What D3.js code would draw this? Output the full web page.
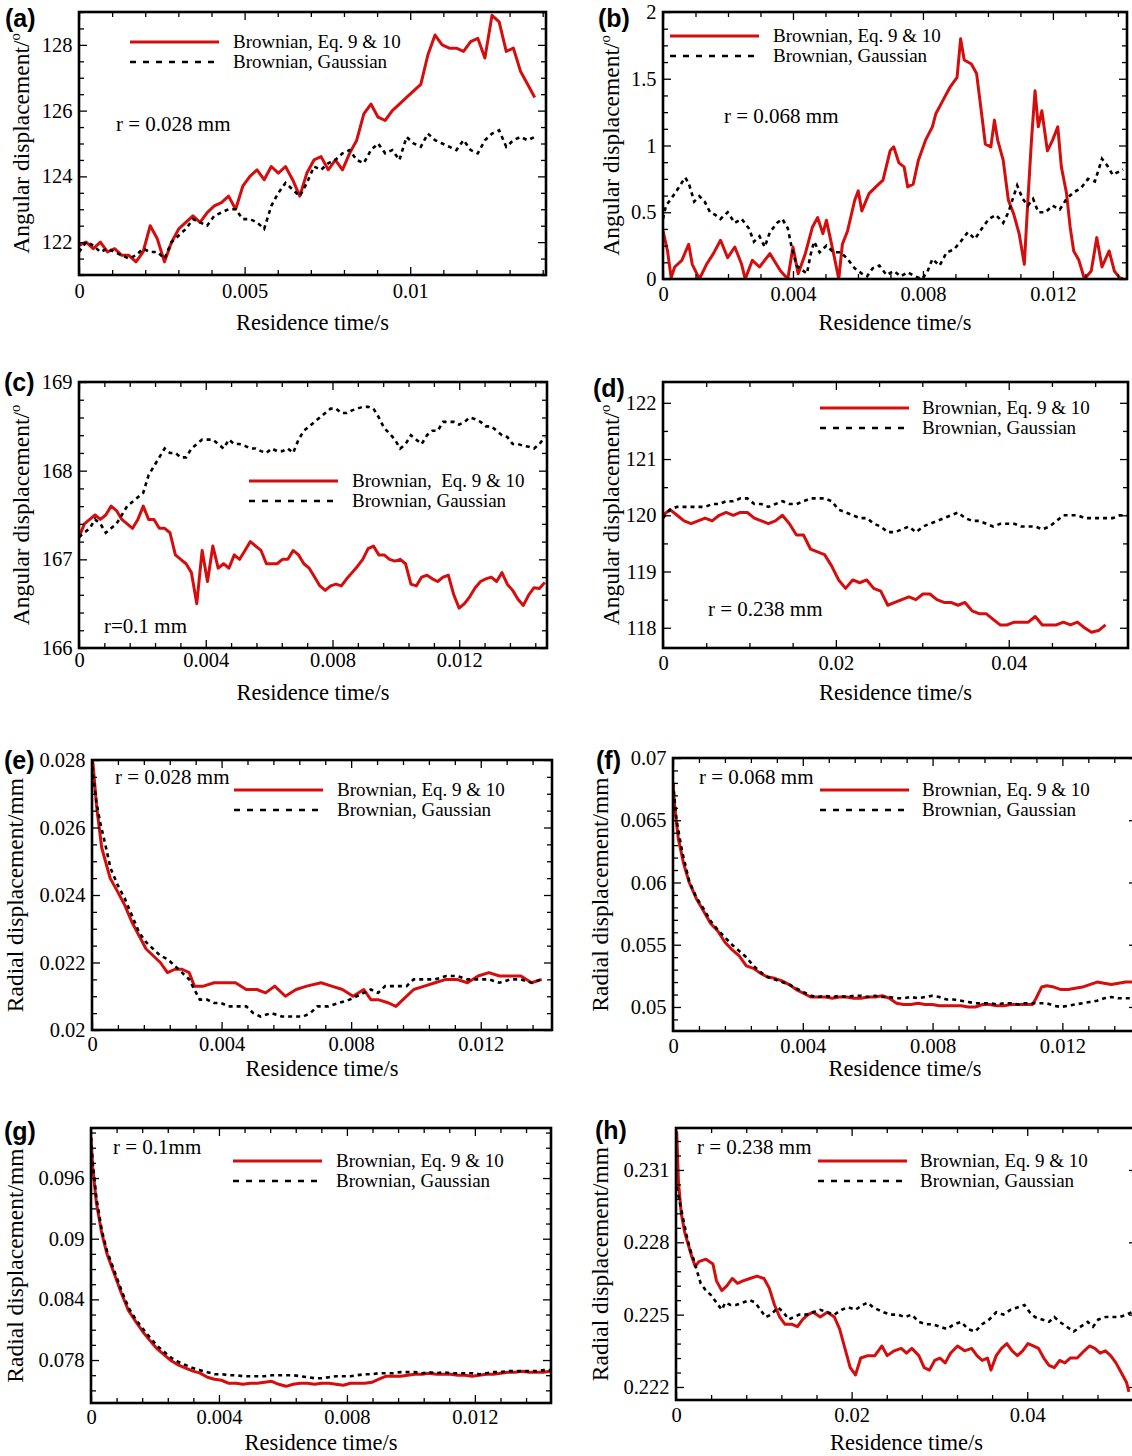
<!DOCTYPE html>
<html>
<head>
<meta charset="utf-8">
<script src="https://cdn.jsdelivr.net/npm/d3@7"></script>
<style>
  body { margin: 0; background: #fff; }
  svg { display: block; }
</style>
</head>
<body>
<script>
// Particle trajectories: angular and radial displacement against residence time,
// Brownian motion from Eq. 9 & 10 (red) versus Gaussian Brownian motion (black dashed).
// Times are stored in milliseconds; a series is either evenly sampled ({span, v})
// or a list of [time_ms, value] pairs.

// ---------- (a) angular, r = 0.028 mm ----------
const aXTicks = [0, 0.005, 0.01];
const aYTicks = [122, 124, 126, 128];
const aEq = { span: [0, 13.76], v: [
  121.9, 122.0, 121.8, 122.0, 121.7, 121.8, 121.6, 121.6, 121.4, 121.7,
  122.5, 122.1, 121.4, 122.0, 122.4, 122.6, 122.8, 122.6, 122.9, 123.1,
  123.2, 123.4, 123.0, 123.7, 124.0, 124.2, 123.9, 124.3, 124.1, 124.3,
  123.9, 123.4, 124.1, 124.5, 124.6, 124.2, 124.5, 124.2, 124.7, 125.1,
  125.9, 126.2, 125.8, 125.7, 126.0, 126.2, 126.4, 126.6, 126.8, 127.7,
  128.3, 128.0, 127.9, 127.9, 127.8, 128.1, 128.2, 127.6, 128.9, 128.7,
  127.8, 127.9, 127.2, 126.8, 126.4 ] };
const aGauss = { span: [0, 13.76], v: [
  121.7, 122.0, 121.9, 121.7, 121.8, 121.7, 121.6, 121.5, 121.6, 121.8,
  121.7, 121.7, 121.5, 122.0, 122.2, 122.4, 122.7, 122.6, 122.5, 122.8,
  122.9, 123.0, 123.0, 122.7, 122.7, 122.6, 122.4, 123.1, 123.5, 123.8,
  123.6, 123.4, 123.8, 124.3, 124.2, 124.4, 124.5, 124.7, 124.8, 124.5,
  124.4, 124.8, 125.0, 124.7, 124.8, 124.5, 125.2, 125.0, 124.9, 125.3,
  125.1, 125.0, 124.9, 124.8, 125.1, 124.8, 124.7, 125.1, 125.3, 125.4,
  124.9, 125.1, 125.2, 125.1, 125.2 ] };

// ---------- (b) angular, r = 0.068 mm ----------
const bXTicks = [0, 0.004, 0.008, 0.012];
const bYTicks = [0, 0.5, 1, 1.5, 2];
const bEq = [
  [0,0.36],[0.14,0.21],[0.25,0.01],[0.36,0.09],[0.58,0.14],[0.79,0.26],[0.9,0.11],[1.12,0],
  [1.34,0.11],[1.55,0.19],[1.77,0.29],[1.99,0.16],[2.21,0.24],[2.42,0.11],[2.53,0],[2.75,0.14],
  [2.97,0.09],[3.29,0.19],[3.62,0.06],[3.84,0],[4.0,0.24],[4.16,0.04],[4.38,0.19],[4.6,0.39],
  [4.76,0.46],[4.92,0.34],[5.03,0.44],[5.25,0.19],[5.41,0],[5.52,0.26],[5.68,0.36],[5.9,0.59],
  [6.01,0.66],[6.12,0.51],[6.34,0.64],[6.55,0.69],[6.77,0.74],[6.99,0.96],[7.1,0.99],[7.26,0.87],
  [7.42,0.84],[7.53,0.69],[7.7,0.71],[7.86,0.89],[8.08,1.04],[8.29,1.14],[8.4,1.24],[8.62,1.34],
  [8.84,1.44],[9.05,1.51],[9.16,1.8],[9.27,1.64],[9.49,1.61],[9.65,1.54],[9.82,1.21],[9.92,1.01],
  [10.09,0.99],[10.2,1.19],[10.3,1.04],[10.47,0.89],[10.63,0.59],[10.79,0.49],[10.96,0.34],[11.12,0.11],
  [11.23,0.59],[11.34,1.04],[11.45,1.41],[11.55,1.14],[11.66,1.26],[11.83,0.96],[11.99,1.04],[12.15,1.14],
  [12.26,0.84],[12.42,0.64],[12.53,0.39],[12.64,0.21],[12.8,0.14],[12.97,0],[13.18,0.06],[13.35,0.31],
  [13.51,0.09],[13.73,0.21],[13.89,0.06],[14.05,0.01],[14.16,0]
];
const bGauss = [
  [0,0.45],[0.09,0.55],[0.25,0.6],[0.47,0.68],[0.68,0.76],[0.79,0.72],[0.96,0.58],[1.12,0.62],
  [1.28,0.58],[1.45,0.5],[1.61,0.48],[1.77,0.45],[1.99,0.5],[2.21,0.42],[2.42,0.45],[2.64,0.38],
  [2.8,0.28],[2.97,0.32],[3.13,0.24],[3.29,0.35],[3.51,0.42],[3.67,0.45],[3.84,0.38],[3.95,0.25],
  [4.11,0.1],[4.27,0.07],[4.43,0.04],[4.54,0.18],[4.65,0.28],[4.82,0.2],[5.03,0.25],[5.25,0.2],
  [5.47,0.2],[5.68,0.15],[5.9,0.08],[6.12,0.04],[6.28,0.02],[6.45,0.08],[6.66,0.1],[6.88,0.03],
  [7.1,0.06],[7.32,0.02],[7.53,0.05],[7.75,0.02],[7.97,0],[8.13,0.05],[8.29,0.15],[8.51,0.1],
  [8.73,0.2],[8.95,0.22],[9.16,0.28],[9.38,0.35],[9.6,0.3],[9.82,0.38],[10.03,0.45],[10.25,0.48],
  [10.47,0.42],[10.63,0.5],[10.79,0.62],[10.9,0.7],[11.07,0.6],[11.23,0.55],[11.39,0.6],[11.55,0.5],
  [11.77,0.5],[11.99,0.55],[12.21,0.52],[12.42,0.6],[12.64,0.65],[12.86,0.68],[13.08,0.75],[13.29,0.73],
  [13.51,0.9],[13.67,0.85],[13.84,0.78],[14.0,0.8],[14.16,0.82]
];

// ---------- (c) angular, r = 0.1 mm ----------
const cXTicks = [0, 0.004, 0.008, 0.012];
const cYTicks = [166, 167, 168, 169];
const cEq = { span: [0, 14.7], v: [
  167.25, 167.4, 167.45, 167.5, 167.45, 167.5, 167.6, 167.55, 167.45, 167.4,
  167.35, 167.45, 167.6, 167.45, 167.45, 167.35, 167.35, 167.3, 167.05, 167.0,
  166.95, 166.85, 166.5, 167.1, 166.75, 167.15, 166.9, 166.95, 166.9, 167.05,
  167.0, 167.1, 167.2, 167.15, 167.1, 166.95, 166.95, 166.95, 167.0, 167.0,
  167.1, 167.05, 166.95, 166.9, 166.8, 166.7, 166.65, 166.7, 166.72, 166.7,
  166.78, 166.85, 166.92, 167.0, 167.12, 167.15, 167.05, 167.05, 167.0, 166.98,
  167.0, 166.95, 166.72, 166.7, 166.8, 166.82, 166.78, 166.75, 166.8, 166.82,
  166.6, 166.45, 166.5, 166.58, 166.68, 166.75, 166.78, 166.8, 166.75, 166.85,
  166.72, 166.65, 166.55, 166.48, 166.6, 166.68, 166.67, 166.74 ] };
const cGauss = { span: [0, 14.7], v: [
  167.25, 167.3, 167.35, 167.45, 167.4, 167.3, 167.35, 167.4, 167.5, 167.6,
  167.65, 167.7, 167.75, 167.95, 168.05, 168.15, 168.25, 168.2, 168.2, 168.15,
  168.15, 168.25, 168.3, 168.35, 168.35, 168.35, 168.3, 168.25, 168.35, 168.3,
  168.3, 168.28, 168.25, 168.25, 168.22, 168.2, 168.25, 168.22, 168.22, 168.25,
  168.2, 168.35, 168.45, 168.5, 168.55, 168.6, 168.65, 168.7, 168.7, 168.65,
  168.65, 168.68, 168.7, 168.72, 168.72, 168.7, 168.6, 168.48, 168.42, 168.35,
  168.25, 168.3, 168.4, 168.35, 168.3, 168.4, 168.45, 168.45, 168.55, 168.55,
  168.55, 168.52, 168.55, 168.6, 168.58, 168.55, 168.5, 168.5, 168.45, 168.4,
  168.38, 168.3, 168.3, 168.28, 168.27, 168.25, 168.3, 168.38 ] };

// ---------- (d) angular, r = 0.238 mm ----------
const dXTicks = [0, 0.02, 0.04];
const dYTicks = [118, 119, 120, 121, 122];
const dEq = { span: [0, 51.2], v: [
  120.0, 120.1, 120.0, 119.9, 119.85, 119.9, 119.95, 119.9, 120.0, 120.05,
  120.0, 120.05, 120.05, 119.95, 119.9, 119.85, 119.9, 120.0, 119.85, 119.65,
  119.65, 119.4, 119.35, 119.3, 119.1, 118.85, 118.7, 118.85, 118.8, 118.85,
  118.7, 118.65, 118.4, 118.45, 118.5, 118.55, 118.5, 118.6, 118.6, 118.5,
  118.45, 118.45, 118.4, 118.45, 118.3, 118.25, 118.25, 118.15, 118.05, 118.05,
  118.1, 118.1, 118.1, 118.2, 118.05, 118.05, 118.05, 118.1, 118.05, 118.1,
  118.0, 117.92, 117.95, 118.05 ] };
const dGauss = { span: [0, 53.66], v: [
  119.95, 120.1, 120.15, 120.15, 120.15, 120.15, 120.15, 120.2, 120.2, 120.25,
  120.25, 120.3, 120.3, 120.2, 120.2, 120.15, 120.2, 120.25, 120.2, 120.2,
  120.25, 120.3, 120.3, 120.3, 120.25, 120.1, 120.05, 120.0, 119.95, 119.95,
  119.85, 119.8, 119.7, 119.7, 119.75, 119.8, 119.7, 119.8, 119.85, 119.9,
  119.95, 120.0, 120.05, 119.95, 119.9, 119.9, 119.85, 119.8, 119.85, 119.85,
  119.85, 119.8, 119.8, 119.8, 119.75, 119.8, 119.9, 120.0, 120.0, 120.0,
  119.95, 119.95, 119.95, 119.95, 119.95, 120.0, 120.0 ] };

// ---------- (e) radial, r = 0.028 mm ----------
const eXTicks = [0, 0.004, 0.008, 0.012];
const eYTicks = [0.02, 0.022, 0.024, 0.026, 0.028];
const eEq = [
  [0,0.028],[0.03,0.0279],[0.145,0.0266],[0.3,0.0254],[0.56,0.0245],[0.79,0.0241],[1.01,0.0237],
  [1.23,0.0232],[1.45,0.0228],[1.67,0.0224],[1.89,0.0222],[2.11,0.022],[2.33,0.0217],[2.56,0.0218],
  [2.78,0.0218],[3.0,0.0217],[3.16,0.0213],[3.44,0.0213],[3.77,0.0214],[4.1,0.0214],[4.43,0.0214],
  [4.76,0.0212],[5.09,0.0212],[5.36,0.0211],[5.64,0.0213],[5.97,0.021],[6.3,0.0212],[6.63,0.0213],
  [7.07,0.0214],[7.4,0.0213],[7.73,0.0212],[8.06,0.021],[8.39,0.0212],[8.61,0.0209],[8.83,0.0209],
  [9.16,0.0208],[9.38,0.0207],[9.6,0.0209],[9.93,0.0212],[10.26,0.0213],[10.59,0.0214],[10.93,0.0215],
  [11.26,0.0215],[11.59,0.0214],[11.92,0.0216],[12.25,0.0217],[12.58,0.0216],[12.91,0.0216],
  [13.24,0.0216],[13.57,0.0214],[13.88,0.0215]
];
const eGauss = [
  [0,0.0278],[0.13,0.0268],[0.24,0.0262],[0.41,0.0255],[0.57,0.0248],[0.79,0.0243],[1.01,0.0239],
  [1.23,0.0234],[1.45,0.0229],[1.67,0.0226],[1.89,0.0224],[2.11,0.0222],[2.33,0.0221],[2.56,0.0219],
  [2.78,0.0217],[3.0,0.0215],[3.16,0.0212],[3.33,0.0209],[3.55,0.0209],[3.77,0.0208],[3.99,0.0208],
  [4.21,0.0207],[4.43,0.0207],[4.76,0.0207],[4.98,0.0205],[5.2,0.0204],[5.53,0.0205],[5.86,0.0204],
  [6.08,0.0204],[6.3,0.0204],[6.52,0.0204],[6.74,0.0205],[6.96,0.0207],[7.29,0.0207],[7.62,0.0208],
  [7.95,0.0209],[8.17,0.021],[8.39,0.0211],[8.61,0.0212],[8.83,0.0211],[9.05,0.0213],[9.38,0.0213],
  [9.71,0.0213],[9.93,0.0215],[10.26,0.0215],[10.59,0.0215],[10.93,0.0216],[11.26,0.0216],
  [11.59,0.0215],[11.92,0.0215],[12.25,0.0215],[12.58,0.0214],[12.91,0.0215],[13.24,0.0215],
  [13.57,0.0214],[13.88,0.0215]
];

// ---------- (f) radial, r = 0.068 mm ----------
const fXTicks = [0, 0.004, 0.008, 0.012];
const fYTicks = [0.05, 0.055, 0.06, 0.065, 0.07];
const fEq = [
  [0,0.068],[0.055,0.066],[0.165,0.0635],[0.33,0.0615],[0.5,0.06],[0.72,0.0587],[0.94,0.0577],
  [1.16,0.0567],[1.38,0.0561],[1.6,0.0552],[1.82,0.0546],[2.04,0.0541],[2.26,0.0533],[2.48,0.0531],
  [2.7,0.0527],[2.92,0.0524],[3.14,0.0523],[3.36,0.0521],[3.58,0.0518],[3.8,0.0514],[4.02,0.0511],
  [4.24,0.0508],[4.47,0.0508],[4.69,0.0508],[4.91,0.0507],[5.13,0.0508],[5.35,0.0508],[5.57,0.0507],
  [5.79,0.0507],[6.01,0.0508],[6.23,0.0508],[6.45,0.0509],[6.67,0.0507],[6.89,0.0503],[7.11,0.0502],
  [7.33,0.0502],[7.55,0.0503],[7.77,0.0502],[7.99,0.0502],[8.21,0.0501],[8.43,0.0501],[8.65,0.0501],
  [8.88,0.0501],[9.1,0.05],[9.32,0.05],[9.54,0.0502],[9.76,0.0502],[9.98,0.0501],[10.2,0.0501],
  [10.42,0.0502],[10.64,0.0502],[10.86,0.0502],[11.08,0.0502],[11.19,0.0507],[11.36,0.0516],
  [11.52,0.0517],[11.74,0.0516],[11.96,0.0514],[12.18,0.0514],[12.4,0.0515],[12.62,0.0516],
  [12.84,0.0518],[13.07,0.052],[13.29,0.0519],[13.51,0.0518],[13.73,0.0519],[13.95,0.052],[14.17,0.052],
  [14.3,0.052]
];
const fGauss = [
  [0,0.068],[0.11,0.065],[0.28,0.0625],[0.5,0.0601],[0.72,0.0588],[0.94,0.0579],[1.16,0.0569],
  [1.38,0.0562],[1.6,0.0556],[1.82,0.055],[2.04,0.0545],[2.26,0.054],[2.48,0.0533],[2.7,0.0528],
  [2.92,0.0524],[3.14,0.0522],[3.36,0.052],[3.58,0.0518],[3.8,0.0515],[4.02,0.0512],[4.24,0.0509],
  [4.47,0.0508],[4.69,0.0509],[4.91,0.0508],[5.13,0.0509],[5.35,0.0508],[5.57,0.0509],[5.79,0.0509],
  [6.01,0.0508],[6.23,0.0509],[6.45,0.0508],[6.67,0.0508],[6.89,0.0507],[7.11,0.0507],[7.33,0.0508],
  [7.55,0.0507],[7.77,0.0508],[7.99,0.0509],[8.21,0.0508],[8.43,0.0506],[8.65,0.0506],[8.88,0.0505],
  [9.1,0.0504],[9.32,0.0503],[9.54,0.0503],[9.76,0.0503],[9.98,0.0502],[10.2,0.0503],[10.42,0.0503],
  [10.64,0.0502],[10.86,0.0503],[11.08,0.0503],[11.3,0.0503],[11.52,0.0503],[11.74,0.0501],
  [11.96,0.05],[12.18,0.0501],[12.4,0.0502],[12.62,0.0503],[12.84,0.0504],[13.07,0.0505],
  [13.29,0.0507],[13.51,0.0508],[13.73,0.0507],[13.95,0.0507],[14.17,0.0507],[14.3,0.0507]
];

// ---------- (g) radial, r = 0.1 mm ----------
const gXTicks = [0, 0.004, 0.008, 0.012];
const gYTicks = [0.078, 0.084, 0.09, 0.096];
const gEq = [
  [0,0.1],[0.056,0.097],[0.17,0.0935],[0.34,0.0905],[0.5,0.0885],[0.73,0.0865],[0.95,0.0846],
  [1.17,0.0829],[1.4,0.0818],[1.62,0.0808],[1.85,0.0799],[2.07,0.0791],[2.29,0.0785],[2.52,0.0779],
  [2.74,0.0775],[2.96,0.0772],[3.19,0.0769],[3.41,0.0767],[3.64,0.0763],[3.86,0.0761],[4.08,0.076],
  [4.31,0.0757],[4.53,0.0757],[4.75,0.0756],[4.98,0.0757],[5.2,0.0757],[5.43,0.0758],[5.65,0.0759],
  [5.87,0.0756],[6.1,0.0754],[6.32,0.0756],[6.54,0.0757],[6.77,0.0757],[6.99,0.0756],[7.21,0.0757],
  [7.44,0.0757],[7.66,0.0756],[7.89,0.0755],[8.11,0.0757],[8.33,0.0757],[8.56,0.0757],[8.78,0.0758],
  [9.0,0.0761],[9.23,0.0764],[9.45,0.0764],[9.68,0.0764],[9.9,0.0765],[10.12,0.0766],[10.35,0.0766],
  [10.57,0.0767],[10.79,0.0766],[11.02,0.0766],[11.24,0.0766],[11.47,0.0765],[11.69,0.0765],
  [11.91,0.0764],[12.14,0.0765],[12.36,0.0766],[12.58,0.0766],[12.81,0.0767],[13.03,0.0768],
  [13.25,0.0768],[13.48,0.0769],[13.7,0.0768],[13.93,0.0768],[14.15,0.0768],[14.35,0.0769]
];
const gGauss = [
  [0,0.1],[0.056,0.0975],[0.17,0.094],[0.34,0.0908],[0.5,0.0888],[0.73,0.0868],[0.95,0.0849],
  [1.17,0.0832],[1.4,0.082],[1.62,0.0811],[1.85,0.0802],[2.07,0.0794],[2.29,0.0788],[2.52,0.0782],
  [2.74,0.0778],[2.96,0.0775],[3.19,0.0772],[3.41,0.077],[3.64,0.0768],[3.86,0.0766],[4.08,0.0766],
  [4.31,0.0765],[4.53,0.0765],[4.75,0.0764],[4.98,0.0764],[5.2,0.0764],[5.43,0.0764],[5.65,0.0765],
  [5.87,0.0765],[6.1,0.0765],[6.32,0.0765],[6.54,0.0764],[6.77,0.0763],[6.99,0.0762],[7.21,0.0762],
  [7.44,0.0763],[7.66,0.0764],[7.89,0.0764],[8.11,0.0764],[8.33,0.0765],[8.56,0.0766],[8.78,0.0766],
  [9.0,0.0767],[9.23,0.0767],[9.45,0.0767],[9.68,0.0768],[9.9,0.0768],[10.12,0.0768],[10.35,0.0767],
  [10.57,0.0768],[10.79,0.0767],[11.02,0.0768],[11.24,0.0767],[11.47,0.0767],[11.69,0.0767],
  [11.91,0.0767],[12.14,0.0766],[12.36,0.0767],[12.58,0.0768],[12.81,0.0768],[13.03,0.0769],
  [13.25,0.0769],[13.48,0.0769],[13.7,0.0769],[13.93,0.0769],[14.15,0.077],[14.35,0.077]
];

// ---------- (h) radial, r = 0.238 mm ----------
const hXTicks = [0, 0.02, 0.04];
const hYTicks = [0.222, 0.225, 0.228, 0.231];
const hEq = [
  [0.08,0.2326],[0.28,0.2305],[0.6,0.2292],[1.0,0.2284],[1.4,0.2279],[1.8,0.2274],[2.2,0.227],
  [2.61,0.2272],[3.41,0.2273],[4.21,0.2271],[4.61,0.2264],[5.21,0.226],[5.81,0.2262],[6.41,0.2265],
  [7.01,0.2263],[7.62,0.2264],[8.42,0.2265],[9.22,0.2266],[10.02,0.2265],[10.62,0.2261],[11.22,0.2254],
  [11.82,0.2249],[12.42,0.2246],[13.23,0.2246],[13.83,0.2245],[14.43,0.2248],[15.03,0.225],[15.63,0.2251],
  [16.43,0.2249],[17.23,0.2251],[18.04,0.2249],[18.64,0.2244],[19.24,0.2236],[19.84,0.2228],[20.44,0.2225],
  [21.04,0.2232],[21.84,0.2233],[22.65,0.2233],[23.45,0.2237],[24.05,0.2233],[24.85,0.2235],[25.65,0.2236],
  [26.25,0.2234],[26.85,0.2236],[27.66,0.2233],[28.26,0.2228],[28.86,0.2227],[29.46,0.2231],[30.06,0.2232],
  [30.66,0.223],[31.26,0.2234],[32.06,0.2237],[32.87,0.2235],[33.67,0.2236],[34.27,0.2233],[34.87,0.2231],
  [35.47,0.2232],[35.87,0.2227],[36.47,0.2233],[37.07,0.2236],[37.68,0.2238],[38.28,0.2235],[38.88,0.2233],
  [39.48,0.2235],[40.08,0.2238],[40.68,0.2237],[41.28,0.2236],[41.88,0.2232],[42.48,0.2229],[43.09,0.2228],
  [43.69,0.2231],[44.29,0.223],[44.89,0.2232],[45.69,0.2232],[46.49,0.2235],[47.09,0.2237],[47.7,0.2236],
  [48.3,0.2234],[48.9,0.2235],[49.5,0.2233],[50.1,0.223],[50.7,0.2226],[51.3,0.2222],[51.58,0.2218]
];
const hGauss = [
  [0.08,0.2303],[0.4,0.2297],[0.8,0.229],[1.2,0.2283],[1.6,0.2277],[2.0,0.2273],[2.4,0.2268],
  [2.81,0.2263],[3.41,0.226],[4.01,0.2258],[4.61,0.2255],[5.21,0.2252],[5.61,0.2255],[6.21,0.2254],
  [6.81,0.2254],[7.62,0.2255],[8.42,0.2256],[9.02,0.2255],[9.62,0.2252],[10.22,0.2249],[10.82,0.225],
  [11.62,0.2253],[12.22,0.2251],[12.83,0.2248],[13.43,0.2249],[14.03,0.225],[14.83,0.225],[15.63,0.2251],
  [16.43,0.2252],[17.23,0.2251],[18.04,0.225],[18.84,0.2252],[19.64,0.2253],[20.44,0.2252],[21.24,0.2254],
  [21.84,0.2255],[22.44,0.2253],[23.05,0.2252],[23.65,0.2251],[24.45,0.225],[25.25,0.225],[26.05,0.2249],
  [26.85,0.225],[27.66,0.2247],[28.46,0.2246],[29.26,0.2246],[30.06,0.2245],[30.86,0.2244],[31.66,0.2246],
  [32.46,0.2247],[33.27,0.2244],[34.07,0.2243],[34.87,0.2246],[35.67,0.2248],[36.47,0.2251],[37.27,0.225],
  [38.08,0.2252],[38.88,0.2253],[39.68,0.2254],[40.28,0.2251],[40.88,0.2249],[41.68,0.2248],[42.48,0.2247],
  [43.09,0.2249],[43.69,0.2247],[44.49,0.2245],[45.29,0.2243],[46.09,0.2245],[46.89,0.2247],[47.49,0.2245],
  [48.1,0.2248],[48.9,0.2249],[49.7,0.2249],[50.5,0.2249],[51.3,0.225],[51.9,0.2251],[52.6,0.2251]
];

// ---------- legend and annotation text ----------
const seriesNames = ['Brownian, Eq. 9 & 10', 'Brownian, Gaussian'];
const seriesNamesC = ['Brownian,\u00a0 Eq. 9 & 10', 'Brownian, Gaussian'];
const ANG_TITLE = 'Angular displacement/';
const RAD_TITLE = 'Radial displacement/mm';
const X_TITLE = 'Residence time/s';

// ---------- layout of the eight panels ----------
const panels = [
  { tag: '(a)', box: [79, 12, 546, 275], xMax: 0.0141, yDom: [121, 129],
    xt: aXTicks, xStep: 0.001, yt: aYTicks, yStep: 0.5, eq: aEq, gs: aGauss,
    title: 'ang', tx: 29, xPad: 8.4, xTitleOff: 55, tagPos: [5, 27], r: ['r = 0.028 mm', 116, 131],
    leg: [130, 42, 233], names: seriesNames },
  { tag: '(b)', box: [663, 12, 1127, 279], xMax: 0.01428, yDom: [0, 2],
    xt: bXTicks, xStep: 0.001, yt: bYTicks, yStep: 0.125, eq: bEq, gs: bGauss,
    title: 'ang', tx: 619, xPad: 7.4, xTitleOff: 51, tagPos: [598, 27], r: ['r = 0.068 mm', 724, 123],
    leg: [670, 36, 773], names: seriesNames },
  { tag: '(c)', box: [79, 382, 547, 648], xMax: 0.01477, yDom: [166, 169],
    xt: cXTicks, xStep: 0.0008, yt: cYTicks, yStep: 0.2, eq: cEq, gs: cGauss,
    title: 'ang', tx: 29, xPad: 4.6, xTitleOff: 52, tagPos: [4, 391], r: ['r=0.1 mm', 104, 633],
    leg: [249, 481, 352], names: seriesNamesC },
  { tag: '(d)', box: [663, 382, 1128, 648], xMax: 0.0538, yDom: [117.64, 122.37],
    xt: dXTicks, xStep: 0.005, yt: dYTicks, yStep: 0.5, eq: dEq, gs: dGauss,
    title: 'ang', tx: 619, xPad: 7.4, xTitleOff: 52, tagPos: [593, 397], r: ['r = 0.238 mm', 708, 616],
    leg: [820, 408, 922], names: seriesNames },
  { tag: '(e)', box: [92, 760, 552, 1030], xMax: 0.0142, yDom: [0.02, 0.028],
    xt: eXTicks, xStep: 0.0008, yt: eYTicks, yStep: 0.0005, eq: eEq, gs: eGauss,
    title: 'rad', tx: 23, xPad: 6.6, xTitleOff: 46, tagPos: [4, 769], r: ['r = 0.028 mm', 115, 784],
    leg: [234, 790, 337], names: seriesNames },
  { tag: '(f)', box: [673, 758, 1137, 1031], xMax: 0.0143, yDom: [0.04807, 0.07],
    xt: fXTicks, xStep: 0.0008, yt: fYTicks, yStep: 0.001, eq: fEq, gs: fGauss,
    title: 'rad', tx: 608, xPad: 7.2, xTitleOff: 45, tagPos: [596, 769], r: ['r = 0.068 mm', 699, 784],
    leg: [820, 790, 922], names: seriesNames },
  { tag: '(g)', box: [91, 1128, 551, 1403], xMax: 0.01438, yDom: [0.07375, 0.10095],
    xt: gXTicks, xStep: 0.0008, yt: gYTicks, yStep: 0.0015, eq: gEq, gs: gGauss,
    title: 'rad', tx: 23, xPad: 6.6, xTitleOff: 47, tagPos: [4, 1140], r: ['r = 0.1mm', 113, 1154],
    leg: [233, 1161, 336], names: seriesNames },
  { tag: '(h)', box: [676, 1128, 1137, 1400], xMax: 0.0525, yDom: [0.22146, 0.23274],
    xt: hXTicks, xStep: 0.004, yt: hYTicks, yStep: 0.0006, eq: hEq, gs: hGauss,
    title: 'rad', tx: 608, xPad: 7.4, xTitleOff: 50, tagPos: [595, 1139], r: ['r = 0.238 mm', 697, 1154],
    leg: [818, 1161, 920], names: seriesNames }
];

const SERIF = '"Liberation Serif", "Times New Roman", serif';
const SANS = '"Liberation Sans", Arial, sans-serif';
const RED = '#d40d0d';
const MAJOR = 8, MINOR = 5;

// evenly sampled series -> [t_ms, value] pairs
function toPairs(s) {
  if (Array.isArray(s)) return s;
  const n = s.v.length, [t0, t1] = s.span;
  return s.v.map((v, i) => [t0 + (t1 - t0) * i / (n - 1), v]);
}

// minor tick positions between the labelled ones
function minorTicks(dom, step, majors) {
  const out = [];
  const lo = Math.min(dom[0], dom[1]), hi = Math.max(dom[0], dom[1]);
  for (let k = Math.ceil(lo / step - 1e-6); k * step <= hi + 1e-9; k++) {
    const v = k * step;
    if (!majors.some(m => Math.abs(m - v) < step * 1e-3)) out.push(v);
  }
  return out;
}

const svg = d3.select('body').append('svg')
  .attr('width', 1132).attr('height', 1456)
  .style('background', '#fff');
const defs = svg.append('defs');

function styleAxis(g, labelled) {
  g.select('.domain').remove();
  g.selectAll('.tick line').attr('stroke', '#000').attr('stroke-width', 1.3);
  if (labelled) {
    g.selectAll('.tick text')
      .attr('font-family', SERIF).attr('font-size', 20.5).attr('fill', '#000');
  }
}

panels.forEach((p, i) => {
  const [L, T, R, B] = p.box;
  const x = d3.scaleLinear().domain([0, p.xMax]).range([L, R]);
  const y = d3.scaleLinear().domain(p.yDom).range([B, T]);
  const g = svg.append('g');

  const clipId = 'clip' + i;
  defs.append('clipPath').attr('id', clipId)
    .append('rect').attr('x', L).attr('y', T).attr('width', R - L).attr('height', B - T);

  const line = d3.line().x(d => x(d[0] / 1000)).y(d => y(d[1]));
  const plot = g.append('g').attr('clip-path', `url(#${clipId})`);
  plot.append('path').datum(toPairs(p.eq))
    .attr('d', line).attr('fill', 'none').attr('stroke', RED)
    .attr('stroke-width', 3).attr('stroke-linejoin', 'round');
  plot.append('path').datum(toPairs(p.gs))
    .attr('d', line).attr('fill', 'none').attr('stroke', '#000')
    .attr('stroke-width', 2.6).attr('stroke-dasharray', '4,4');

  // ticks on all four sides, pointing inward
  const xMinor = minorTicks(x.domain(), p.xStep, p.xt);
  const yMinor = minorTicks(y.domain(), p.yStep, p.yt);
  const lab = v => String(+v.toPrecision(6));

  g.append('g').attr('transform', `translate(0,${B})`)
    .call(d3.axisBottom(x).tickValues(p.xt).tickSize(-MAJOR).tickPadding(p.xPad).tickFormat(lab))
    .call(a => styleAxis(a, true));
  g.append('g').attr('transform', `translate(0,${B})`)
    .call(d3.axisBottom(x).tickValues(xMinor).tickSize(-MINOR).tickFormat(''))
    .call(a => styleAxis(a, false));
  g.append('g').attr('transform', `translate(0,${T})`)
    .call(d3.axisTop(x).tickValues(p.xt).tickSize(-MAJOR).tickFormat(''))
    .call(a => styleAxis(a, false));
  g.append('g').attr('transform', `translate(0,${T})`)
    .call(d3.axisTop(x).tickValues(xMinor).tickSize(-MINOR).tickFormat(''))
    .call(a => styleAxis(a, false));

  g.append('g').attr('transform', `translate(${L},0)`)
    .call(d3.axisLeft(y).tickValues(p.yt).tickSize(-MAJOR).tickPadding(6.5).tickFormat(lab))
    .call(a => styleAxis(a, true));
  g.append('g').attr('transform', `translate(${L},0)`)
    .call(d3.axisLeft(y).tickValues(yMinor).tickSize(-MINOR).tickFormat(''))
    .call(a => styleAxis(a, false));
  g.append('g').attr('transform', `translate(${R},0)`)
    .call(d3.axisRight(y).tickValues(p.yt).tickSize(-MAJOR).tickFormat(''))
    .call(a => styleAxis(a, false));
  g.append('g').attr('transform', `translate(${R},0)`)
    .call(d3.axisRight(y).tickValues(yMinor).tickSize(-MINOR).tickFormat(''))
    .call(a => styleAxis(a, false));

  // frame
  g.append('rect').attr('x', L).attr('y', T).attr('width', R - L).attr('height', B - T)
    .attr('fill', 'none').attr('stroke', '#000').attr('stroke-width', 2.6);

  // axis titles
  g.append('text')
    .attr('x', (L + R) / 2).attr('y', B + p.xTitleOff)
    .attr('text-anchor', 'middle').attr('font-family', SERIF).attr('font-size', 22.5)
    .text(X_TITLE);
  const yt = g.append('text')
    .attr('transform', `translate(${p.tx},${(T + B) / 2}) rotate(-90)`)
    .attr('text-anchor', 'middle').attr('font-family', SERIF).attr('font-size', 23.5);
  if (p.title === 'ang') {
    yt.append('tspan').text(ANG_TITLE);
    yt.append('tspan').attr('font-size', 14.5).attr('dy', -9.5).text('o');
  } else {
    yt.text(RAD_TITLE);
  }

  // panel tag
  g.append('text').attr('x', p.tagPos[0]).attr('y', p.tagPos[1])
    .attr('font-family', SANS).attr('font-weight', 'bold').attr('font-size', 25)
    .text(p.tag);

  // radius annotation
  g.append('text').attr('x', p.r[1]).attr('y', p.r[2])
    .attr('font-family', SERIF).attr('font-size', 21).text(p.r[0]);

  // legend
  const [lx, ly, tx] = p.leg;
  g.append('line').attr('x1', lx).attr('x2', lx + 89).attr('y1', ly).attr('y2', ly)
    .attr('stroke', RED).attr('stroke-width', 3);
  g.append('line').attr('x1', lx).attr('x2', lx + 84).attr('y1', ly + 20).attr('y2', ly + 20)
    .attr('stroke', '#000').attr('stroke-width', 2.6).attr('stroke-dasharray', '6,7');
  g.append('text').attr('x', tx).attr('y', ly + 6)
    .attr('font-family', SERIF).attr('font-size', 19).text(p.names[0]);
  g.append('text').attr('x', tx).attr('y', ly + 26)
    .attr('font-family', SERIF).attr('font-size', 19).text(p.names[1]);
});
</script>
</body>
</html>
